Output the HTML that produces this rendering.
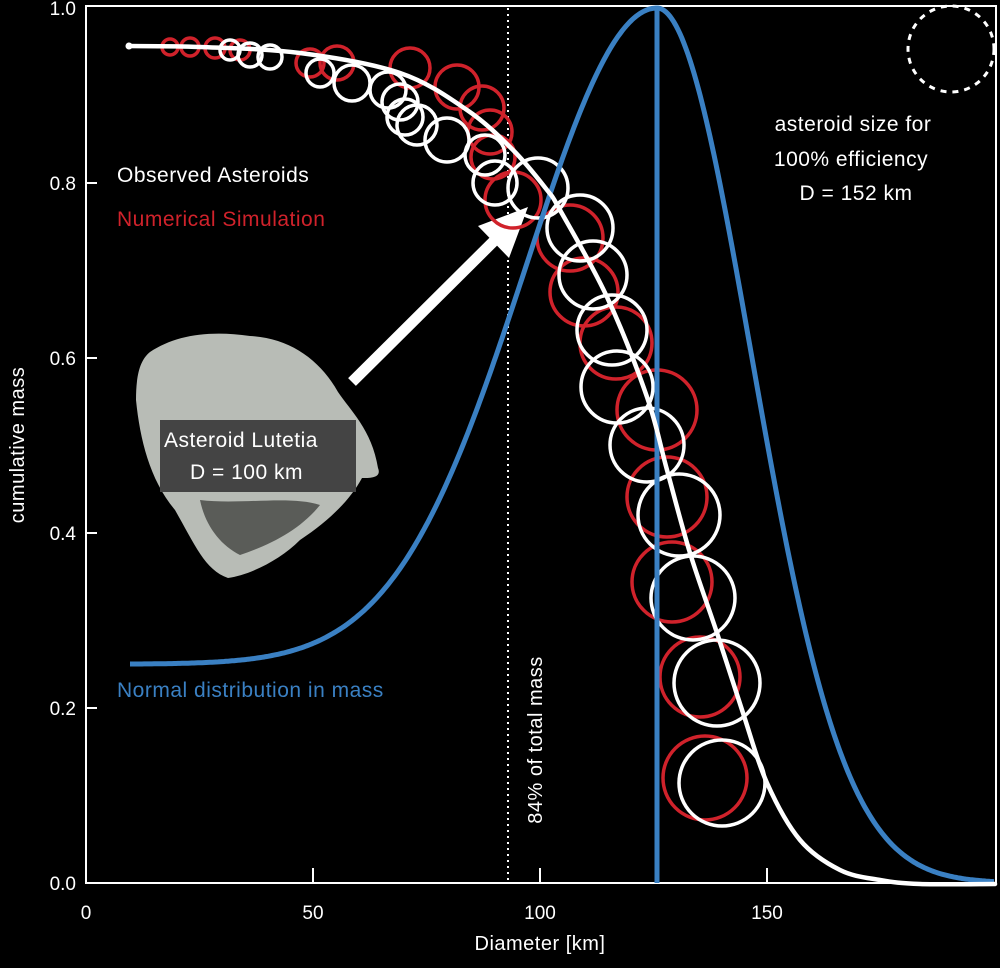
<!DOCTYPE html>
<html><head><meta charset="utf-8"><style>
html,body{margin:0;padding:0;background:#000;}
svg{display:block;}
text{font-family:"Liberation Sans",sans-serif;}
.a{font-size:21px;letter-spacing:0.5px;}
</style></head><body>
<svg id="s" width="1000" height="968" viewBox="0 0 1000 968" xmlns="http://www.w3.org/2000/svg">
<rect width="1000" height="968" fill="#000"/>
<rect x="86" y="6" width="910" height="877" fill="none" stroke="#fff" stroke-width="2"/>
<g stroke="#fff" stroke-width="2">
<line x1="86" y1="708" x2="97" y2="708"/><line x1="86" y1="533" x2="97" y2="533"/>
<line x1="86" y1="358" x2="97" y2="358"/><line x1="86" y1="183" x2="97" y2="183"/>
<line x1="313" y1="883" x2="313" y2="868"/><line x1="540" y1="883" x2="540" y2="868"/>
<line x1="767" y1="883" x2="767" y2="868"/>
</g>
<g fill="#fff" font-size="19" text-anchor="end">
<text x="76" y="890">0.0</text><text x="76" y="715">0.2</text><text x="76" y="540">0.4</text>
<text x="76" y="365">0.6</text><text x="76" y="190">0.8</text><text x="76" y="15">1.0</text>
</g>
<g fill="#fff" font-size="19" text-anchor="middle">
<text x="86" y="919">0</text><text x="313" y="919">50</text><text x="540" y="919">100</text><text x="767" y="919">150</text>
<text x="540" y="950" class="a" style="font-size:20px">Diameter [km]</text>
<text transform="translate(24,445) rotate(-90)" class="a" style="font-size:20px">cumulative mass</text>
</g>
<line x1="508" y1="8" x2="508" y2="883" stroke="#fff" stroke-width="2" stroke-dasharray="2,4"/>
<text transform="translate(542,740) rotate(-90)" fill="#fff" class="a" style="font-size:20px" text-anchor="middle">84% of total mass</text>
<circle cx="951" cy="49" r="43" fill="none" stroke="#fff" stroke-width="3" stroke-dasharray="6,6"/>
<path d="M150,352 C175,335 210,330 250,336 C290,338 320,360 338,392 C350,410 372,430 378,468 C382,478 370,478 362,478 C350,500 330,520 300,540 C280,560 250,575 228,578 C205,570 195,545 175,510 C150,480 140,440 136,400 C136,375 140,360 150,352 Z" fill="#b8bcb6"/>
<path d="M200,500 C240,505 290,495 320,505 C300,530 270,545 240,555 C220,545 205,525 200,500 Z" fill="#5a5c58"/>
<rect x="160" y="420" width="196" height="72" fill="#444"/>
<text x="164" y="447" fill="#fff" class="a">Asteroid Lutetia</text>
<text x="190" y="479" fill="#fff" class="a">D = 100 km</text>
<line x1="352" y1="382" x2="500" y2="235" stroke="#fff" stroke-width="11"/>
<polygon points="528,207 478,226 509,258" fill="#fff"/>
<g id="circ" fill="none" stroke-width="3.5"></g>
<path id="gauss" fill="none" stroke="#3a80c3" stroke-width="5"/>
<line x1="657" y1="8" x2="657" y2="883" stroke="#3a80c3" stroke-width="5"/>
<path id="cum" fill="none" stroke="#fff" stroke-width="4.5" stroke-linecap="round"/>
<circle cx="129" cy="46" r="3.5" fill="#fff"/>
<text x="117" y="182" fill="#fff" class="a">Observed Asteroids</text>
<text x="117" y="226" fill="#d0222b" class="a">Numerical Simulation</text>
<text x="117" y="697" fill="#3a80c3" class="a">Normal distribution in mass</text>
<g fill="#fff" class="a" text-anchor="middle">
<text x="853" y="131">asteroid size for</text>
<text x="851" y="166">100% efficiency</text>
<text x="856" y="200">D = 152 km</text>
</g>
</svg>
<script>
var NS="http://www.w3.org/2000/svg";
var g=document.getElementById("circ");
var W=[[230,50,10],[250,55,12],[270,57,12],[320,73,14],[352,83,18],[388,90,18],[400,102,18],[405,117,18],[417,125,20],[447,140,22],[485,155,20],[495,183,22],[538,188,30],[580,228,33],[593,275,34],[612,330,35],[617,387,36],[647,445,37],[679,515,41],[693,598,42],[717,683,43],[722,783,43]];
var R=[[170,47,8],[190,47,9],[215,48,10],[240,50,10],[310,63,14],[337,63,17],[410,68,20],[457,87,22],[482,108,22],[490,132,22],[493,157,22],[513,200,28],[570,238,33],[584,292,34],[616,343,36],[657,410,40],[667,497,40],[672,582,40],[700,677,40],[705,778,42]];
function add(a,c){a.forEach(function(p){var e=document.createElementNS(NS,"circle");e.setAttribute("cx",p[0]);e.setAttribute("cy",p[1]);e.setAttribute("r",p[2]);e.setAttribute("stroke",c);g.appendChild(e);});}
add(R,"#d0222b");add(W,"#fff");
var P=[[128,46],[200,47],[300,53],[400,73],[467,110],[513,150],[547,190],[560,210],[607,297],[647,397],[667,470],[690,553],[717,633],[743,713],[767,783],[800,840],[840,870],[880,880],[920,884],[995,884]];
var d="M"+P[0][0]+","+P[0][1];
for(var i=0;i<P.length-1;i++){var p0=P[i-1]||P[i],p1=P[i],p2=P[i+1],p3=P[i+2]||P[i+1];
d+=" C"+(p1[0]+(p2[0]-p0[0])/6)+","+(p1[1]+(p2[1]-p0[1])/6)+" "+(p2[0]-(p3[0]-p1[0])/6)+","+(p2[1]-(p3[1]-p1[1])/6)+" "+p2[0]+","+p2[1];}
document.getElementById("cum").setAttribute("d",d);
var gd="";
for(var x=130;x<=995;x+=2){var v;
if(x<657){v=0.25+0.75*Math.exp(-Math.pow(x-657,2)/(2*131*131));}
else{v=Math.exp(-Math.pow(x-657,2)/(2*94*94));}
var y=883-v*875; if(y>885)y=885;
gd+=(gd?" L":"M")+x+","+y.toFixed(1);}
document.getElementById("gauss").setAttribute("d",gd);
</script>
</body></html>
